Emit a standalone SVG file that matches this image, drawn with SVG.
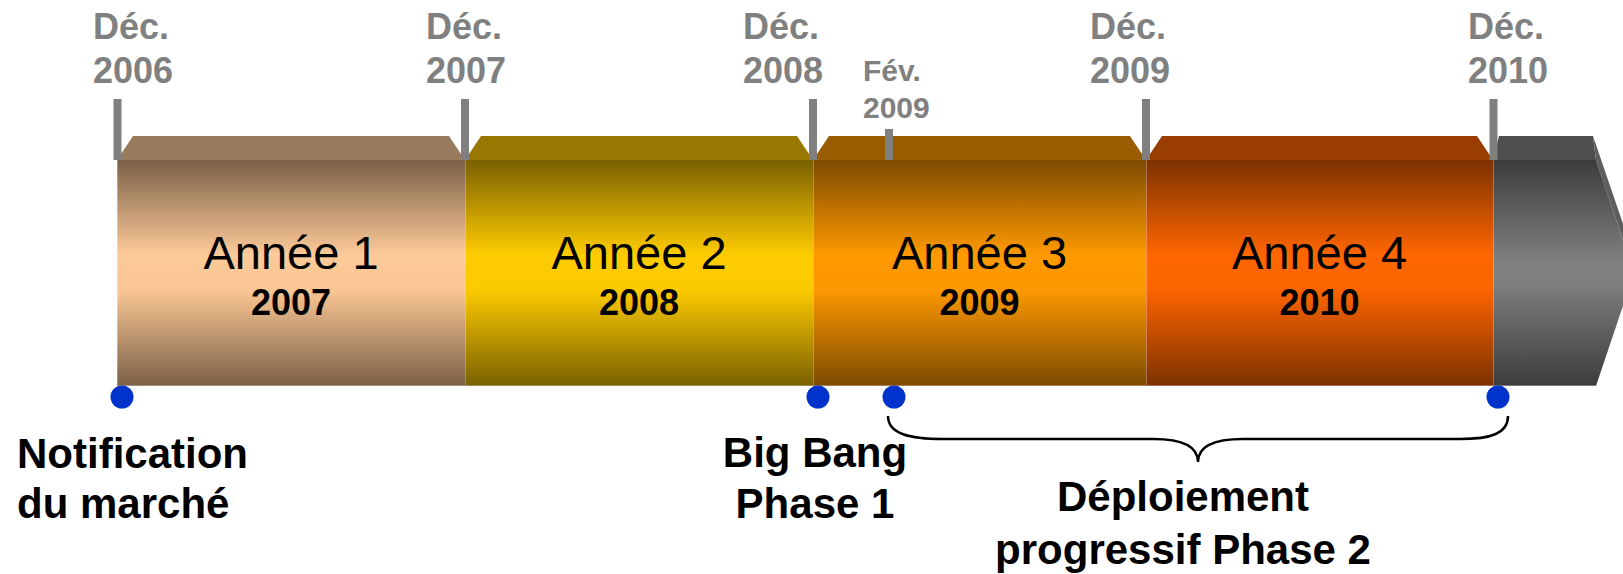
<svg xmlns="http://www.w3.org/2000/svg" width="1623" height="574" viewBox="0 0 1623 574">
  <defs>
    <linearGradient id="g1" x1="0" y1="0" x2="0" y2="1">
      <stop offset="0" stop-color="#7a6047"/>
      <stop offset="0.42" stop-color="#fdca99"/>
      <stop offset="0.58" stop-color="#f8c593"/>
      <stop offset="1" stop-color="#7a6047"/>
    </linearGradient>
    <linearGradient id="g2" x1="0" y1="0" x2="0" y2="1">
      <stop offset="0" stop-color="#7a6000"/>
      <stop offset="0.42" stop-color="#ffcc00"/>
      <stop offset="0.58" stop-color="#fbc900"/>
      <stop offset="1" stop-color="#7a6000"/>
    </linearGradient>
    <linearGradient id="g3" x1="0" y1="0" x2="0" y2="1">
      <stop offset="0" stop-color="#7c4a00"/>
      <stop offset="0.42" stop-color="#ff9900"/>
      <stop offset="0.58" stop-color="#fb9700"/>
      <stop offset="1" stop-color="#7c4a00"/>
    </linearGradient>
    <linearGradient id="g4" x1="0" y1="0" x2="0" y2="1">
      <stop offset="0" stop-color="#7c3100"/>
      <stop offset="0.42" stop-color="#ff6600"/>
      <stop offset="0.58" stop-color="#fb6400"/>
      <stop offset="1" stop-color="#7c3100"/>
    </linearGradient>
    <linearGradient id="g5" x1="0" y1="0" x2="0" y2="1">
      <stop offset="0" stop-color="#3c3c3c"/>
      <stop offset="0.45" stop-color="#808080"/>
      <stop offset="0.55" stop-color="#7e7e7e"/>
      <stop offset="1" stop-color="#3c3c3c"/>
    </linearGradient>
    <style>
      .edge { fill: none; stroke: #ffffff; stroke-opacity: 0.3; stroke-width: 1; }
      .title { font-family: "Liberation Sans", Arial, sans-serif; font-size: 47px; fill: #000; text-anchor: middle; }
      .year { font-family: "Liberation Sans", Arial, sans-serif; font-size: 36px; font-weight: bold; fill: #000; text-anchor: middle; }
      .date { font-family: "Liberation Sans", Arial, sans-serif; font-size: 36px; font-weight: bold; fill: #808080; }
      .date-small { font-family: "Liberation Sans", Arial, sans-serif; font-size: 30px; font-weight: bold; fill: #808080; }
      .tick { stroke: #808080; stroke-width: 8; }
      .dot { fill: #0033cc; }
      .note { font-family: "Liberation Sans", Arial, sans-serif; font-size: 42px; font-weight: bold; fill: #000; }
      .brace { fill: none; stroke: #000; stroke-width: 2.5; }
    </style>
  </defs>

  <!-- year blocks: bevelled top + shaded front face -->
  <g id="year1">
    <polygon points="117,160 133,136 449,136 465,160" fill="#987a5c"/>
    <rect x="117" y="160" width="348" height="226" fill="url(#g1)"/>
    <path class="edge" d="M117.5,160 V385.5 H465"/>
    <text class="title" x="291" y="269">Année 1</text>
    <text class="year" x="291" y="315">2007</text>
  </g>
  <g id="year2">
    <polygon points="465,160 481,136 797,136 813,160" fill="#9a7800"/>
    <rect x="465" y="160" width="348" height="226" fill="url(#g2)"/>
    <path class="edge" d="M465.5,160 V385.5 H813"/>
    <text class="title" x="639" y="269">Année 2</text>
    <text class="year" x="639" y="315">2008</text>
  </g>
  <g id="year3">
    <polygon points="813,160 829,136 1130,136 1146,160" fill="#9a5c00"/>
    <rect x="813" y="160" width="333" height="226" fill="url(#g3)"/>
    <path class="edge" d="M813.5,160 V385.5 H1146"/>
    <text class="title" x="979.5" y="269">Année 3</text>
    <text class="year" x="979.5" y="315">2009</text>
  </g>
  <g id="year4">
    <polygon points="1146,160 1162,136 1477,136 1493,160" fill="#993d00"/>
    <rect x="1146" y="160" width="347" height="226" fill="url(#g4)"/>
    <path class="edge" d="M1146.5,160 V385.5 H1493"/>
    <text class="title" x="1319.5" y="269">Année 4</text>
    <text class="year" x="1319.5" y="315">2010</text>
  </g>
  <g id="arrow-next">
    <polygon points="1493,160 1499,136 1593,136 1596,160" fill="#4f4f4f"/>
    <polygon points="1593,136 1632,250 1634,273 1596,160" fill="#5e5e5e"/>
    <polygon points="1493,160 1596,160 1634,273 1596,386 1493,386" fill="url(#g5)"/>
    <path class="edge" d="M1493.5,160 V385.5 H1596"/>
  </g>

  <!-- date markers -->
  <g id="ticks">
    <line class="tick" x1="117.5" y1="99" x2="117.5" y2="160"/>
    <line class="tick" x1="465" y1="99" x2="465" y2="160"/>
    <line class="tick" x1="813" y1="99" x2="813" y2="160"/>
    <line class="tick" x1="889" y1="129" x2="889" y2="160"/>
    <line class="tick" x1="1146" y1="99" x2="1146" y2="160"/>
    <line class="tick" x1="1493.5" y1="99" x2="1493.5" y2="160"/>
  </g>
  <g id="dates">
    <text class="date" x="93" y="39">Déc.</text>
    <text class="date" x="93" y="83">2006</text>
    <text class="date" x="426" y="39">Déc.</text>
    <text class="date" x="426" y="83">2007</text>
    <text class="date" x="743" y="39">Déc.</text>
    <text class="date" x="743" y="83">2008</text>
    <text class="date-small" x="863" y="81">Fév.</text>
    <text class="date-small" x="863" y="118">2009</text>
    <text class="date" x="1090" y="39">Déc.</text>
    <text class="date" x="1090" y="83">2009</text>
    <text class="date" x="1468" y="39">Déc.</text>
    <text class="date" x="1468" y="83">2010</text>
  </g>

  <!-- milestones -->
  <g id="milestone-notification">
    <circle class="dot" cx="122" cy="397" r="11.5"/>
    <text class="note" x="17" y="468">Notification</text>
    <text class="note" x="17" y="518">du marché</text>
  </g>
  <g id="milestone-bigbang">
    <circle class="dot" cx="818" cy="397" r="11.5"/>
    <text class="note" x="815" y="467" text-anchor="middle">Big Bang</text>
    <text class="note" x="815" y="518" text-anchor="middle">Phase 1</text>
  </g>
  <g id="milestone-phase2">
    <circle class="dot" cx="894" cy="397" r="11.5"/>
    <circle class="dot" cx="1498" cy="397" r="11.5"/>
    <text class="note" x="1183" y="511" text-anchor="middle">Déploiement</text>
    <text class="note" x="1183" y="564" text-anchor="middle">progressif Phase 2</text>
  </g>

  <g id="connectors">
    <path class="brace" d="M888,416 C888,434 910,439 943,439 L1153,439 C1182,439 1198,446 1198,462 C1198,446 1214,439 1243,439 L1460,439 C1490,439 1508,434 1508,416"/>
  </g>
</svg>
